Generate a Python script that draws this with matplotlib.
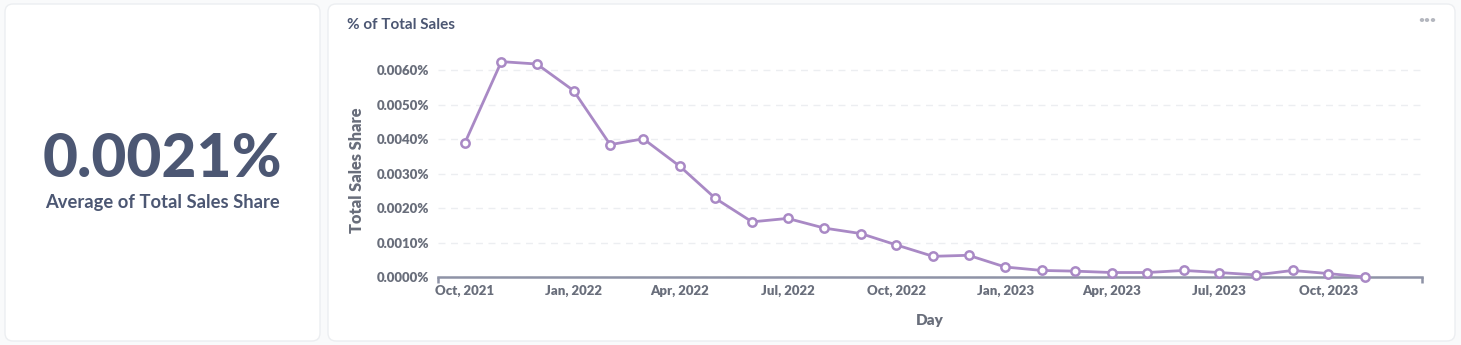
import datetime as dt
import matplotlib.pyplot as plt
import matplotlib.dates as mdates
from matplotlib.patches import FancyBboxPatch
from matplotlib.ticker import FuncFormatter

plt.rcParams['font.family'] = ['Lato', 'DejaVu Sans']
plt.rcParams['font.weight'] = 'bold'

# monthly share of total sales, in percent
months = [dt.date(2021, 10, 1), dt.date(2021, 11, 1), dt.date(2021, 12, 1),
          dt.date(2022, 1, 1), dt.date(2022, 2, 1), dt.date(2022, 3, 1),
          dt.date(2022, 4, 1), dt.date(2022, 5, 1), dt.date(2022, 6, 1),
          dt.date(2022, 7, 1), dt.date(2022, 8, 1), dt.date(2022, 9, 1),
          dt.date(2022, 10, 1), dt.date(2022, 11, 1), dt.date(2022, 12, 1),
          dt.date(2023, 1, 1), dt.date(2023, 2, 1), dt.date(2023, 3, 1),
          dt.date(2023, 4, 1), dt.date(2023, 5, 1), dt.date(2023, 6, 1),
          dt.date(2023, 7, 1), dt.date(2023, 8, 1), dt.date(2023, 9, 1),
          dt.date(2023, 10, 1), dt.date(2023, 11, 1)]
share = [0.00388, 0.00625, 0.00618, 0.00541, 0.00384, 0.00401,
         0.00321, 0.00228, 0.00160, 0.00170, 0.00142, 0.00126,
         0.00093, 0.00060, 0.00063, 0.00029, 0.00019, 0.00017,
         0.00013, 0.00013, 0.00019, 0.00013, 0.00006, 0.00019,
         0.00010, 0.00000]

avg_value = '0.0021%'
avg_label = 'Average of Total Sales Share'
yticks = [0, 0.001, 0.002, 0.003, 0.004, 0.005, 0.006]

W, H = 1461, 345
dark = '#4c5773'
grey = '#696e7b'
purple = '#a989c5'

fig = plt.figure(figsize=(W / 100, H / 100), dpi=100)
fig.patch.set_facecolor('#f9fafb')


def card(x0, y0, x1, y1):
    # rounded white card, pixel coords from top-left
    p = FancyBboxPatch((x0 / W, 1 - y1 / H), (x1 - x0) / W, (y1 - y0) / H,
                       boxstyle='round,pad=0,rounding_size=0.0055',
                       transform=fig.transFigure, facecolor='white',
                       edgecolor='#eceef1', linewidth=1, mutation_aspect=W / H,
                       zorder=-5)
    fig.add_artist(p)


card(5, 4, 320, 341)
card(328, 4, 1455, 341)

# scalar card
fig.text(162 / W, 1 - 177 / H, avg_value, ha='center', va='baseline',
         fontsize=43.5, fontweight='black', color=dark)
fig.text(162 / W, 1 - 208 / H, avg_label, ha='center', va='baseline',
         fontsize=13.2, fontweight='bold', color=dark)

# line chart card
fig.text(347 / W, 1 - 25 / H, '% of Total Sales', ha='left', va='center',
         fontsize=11, fontweight='bold', color=dark)
fig.text(1427 / W, 1 - 21 / H, '•••', ha='center', va='center',
         fontsize=7.5, color='#b4b7bf')

ax = fig.add_axes([437.5 / W, 68 / H, 984 / W, 224 / H])
ax.set_zorder(2)
ax.set_facecolor('none')
ax.plot(months, share, color=purple, linewidth=2, marker='o', markersize=6,
        markerfacecolor='white', markeredgecolor=purple, markeredgewidth=1.8,
        zorder=3, clip_on=False)

ax.set_xlim(dt.date(2021, 9, 8), dt.date(2023, 12, 19))
ax.set_ylim(0, 0.0065)
ax.set_yticks(yticks)
ax.yaxis.set_major_formatter(FuncFormatter(lambda v, p: f'{v:.4f}%'))
ax.xaxis.set_major_locator(mdates.MonthLocator(bymonth=[1, 4, 7, 10]))
ax.xaxis.set_major_formatter(mdates.DateFormatter('%b, %Y'))

for s in ['top', 'right', 'left']:
    ax.spines[s].set_visible(False)
ax.spines['bottom'].set_color('#8e93a6')
ax.spines['bottom'].set_linewidth(1.8)
ax.grid(axis='y', color='#eceef1', linestyle=(0, (5, 4)), linewidth=1)
ax.set_axisbelow(True)
ax.tick_params(axis='both', length=0, labelsize=9.5, labelcolor=grey)
ax.tick_params(axis='x', pad=6)
ax.tick_params(axis='y', pad=6)

# small end caps on the x axis
for xe in ax.get_xlim():
    ax.plot([xe, xe], [0, -0.00018], color='#8e93a6', linewidth=1.8,
            clip_on=False, solid_capstyle='butt')

ax.set_ylabel('Total Sales Share', fontsize=11.8, fontweight='heavy', color=grey)
ax.yaxis.set_label_coords(-0.0735, 0.478)
ax.set_xlabel('Day', fontsize=11, fontweight='heavy', color=grey, labelpad=12)

# tick labels are made at draw time, so make them heavier afterwards
fig.canvas.draw()
for lab in ax.get_xticklabels() + ax.get_yticklabels():
    lab.set_fontweight('heavy')

fig.savefig('out.png', dpi=100, facecolor=fig.get_facecolor())
